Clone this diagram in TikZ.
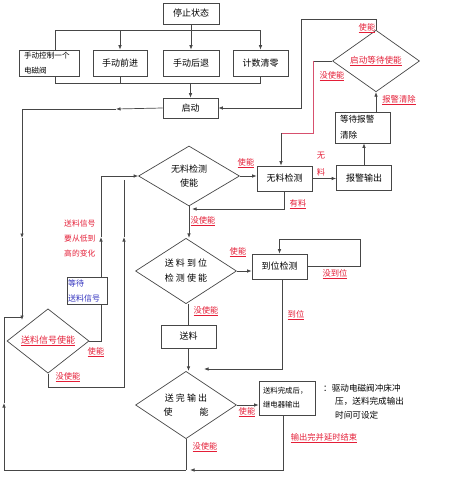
\documentclass[tikz,border=0pt]{standalone}
\usepackage{fontspec}
\setmainfont{Noto Sans CJK SC}
\usetikzlibrary{shapes.geometric,arrows.meta}
\definecolor{lblred}{RGB}{228,30,55}
\definecolor{sigblue}{RGB}{50,50,190}
\definecolor{linegray}{RGB}{70,70,70}
\definecolor{pinkline}{RGB}{215,80,110}
\begin{document}
\begin{tikzpicture}[x=1pt,y=-1pt,
  box/.style={draw=linegray,line width=0.7pt,inner sep=0pt,font=\fontsize{9}{11}\selectfont},
  dia/.style={diamond,draw=linegray,line width=0.7pt,inner sep=0pt,align=center,font=\fontsize{9}{14}\selectfont},
  lbl/.style={text=lblred,inner sep=0pt,font=\fontsize{8.3}{10}\selectfont},
  ln/.style={draw=linegray,line width=0.7pt},
  redln/.style={draw=pinkline,line width=0.7pt},
  arr/.style={-{Latex[length=4.5pt,width=3.5pt]}}]
\useasboundingbox (0,0) rectangle (474,500);

\node[box,minimum width=56,minimum height=21] (stop) at (191,13.5){停止状态};
\node[box,minimum width=60,minimum height=26,align=left,text width=50,font=\fontsize{7.6}{15}\selectfont] (man1) at (49,63){手动控制一个\\电磁阀};
\node[box,minimum width=54,minimum height=26] (fwd) at (120,63){手动前进};
\node[box,minimum width=56,minimum height=26] (bwd) at (191,63){手动后退};
\node[box,minimum width=55,minimum height=26] (clr) at (260.5,63){计数清零};
\node[box,minimum width=55,minimum height=20] (start) at (190.5,108){启动};
\node[dia,minimum width=87,minimum height=46,text=lblred,font=\fontsize{8.6}{10}\selectfont] (dwait) at (376,61){\underline{启动等待使能}};
\node[box,minimum width=55,minimum height=31,align=left,text width=45,font=\fontsize{8.6}{16}\selectfont] (alarmclr) at (362.5,127.5){等待报警\\清除};
\node[box,minimum width=55,minimum height=25] (alarm) at (364,178){报警输出};
\node[box,minimum width=55,minimum height=25] (nomat) at (284.5,178.5){无料检测};
\node[dia,minimum width=101,minimum height=60] (d1) at (189,176){无料检测\\使能};
\node[dia,minimum width=101,minimum height=59,font=\fontsize{9}{15}\selectfont] (d2) at (186,271){送 料 到 位\\检 测 使 能};
\node[box,minimum width=55,minimum height=25] (pos) at (279.5,266.5){到位检测};
\node[box,minimum width=55,minimum height=23] (feed) at (188.5,336.5){送料};
\node[dia,minimum width=101,minimum height=60] (d3) at (186,405){送 完 输 出\\使\hspace{27pt}能};
\node[box,minimum width=56,minimum height=34,align=left,text width=48,font=\fontsize{7.4}{14}\selectfont] (relay) at (287,398){送料完成后，\\继电器输出};
\node[dia,minimum width=82,minimum height=48,text=lblred] (d0) at (48,341){\underline{送料信号使能}};
\node[box,minimum width=40,minimum height=27,align=left,text width=38,text=sigblue,font=\fontsize{8}{15}\selectfont] (waitsig) at (87,290.5){等待\\送料信号};
\node[lbl,anchor=west,align=left,font=\fontsize{7.8}{15}\selectfont] (signote) at (64,239){送料信号\\要从低到\\高的变化};
\node[anchor=north west,align=left,inner sep=0pt,font=\fontsize{8.6}{13.5}\selectfont] (note) at (323,384){：驱动电磁阀冲床冲\\\hspace*{12pt}压，送料完成输出\\\hspace*{12pt}时间可设定};

\coordinate (bus1) at (191,30.5);
\coordinate (bus2) at (190.5,83);
\coordinate (m1) at (116,109);
\coordinate (lc) at (22,109);
\coordinate (m2) at (22,238);
\coordinate (e1) at (22,320);
\coordinate (lj) at (22,317);
\coordinate (bj) at (186,470);
\coordinate (m3) at (4,403);
\coordinate (tr) at (301,19);
\coordinate (w1) at (313,133);
\coordinate (w2) at (281,133);
\coordinate (hy) at (192,209);
\coordinate (pr) at (360,239);
\coordinate (py) at (204,369);
\coordinate (rb) at (190,470);
\coordinate (m4) at (101,237);
\coordinate (c5) at (124,387);
\coordinate (m5) at (124,237);
\coordinate (t5) at (124,180);

\draw[ln] (stop) -- (bus1);
\draw[ln] ([xshift=6]man1.north) |- (bus1) -- (clr.north |- bus1);
\foreach \n in {fwd,bwd,clr}
  \draw[ln,arr] (bus1 -| \n) -- (\n.north);
\draw[ln] ([xshift=6]man1.south) |- (clr.south |- bus2);
\foreach \n in {fwd,clr}
  \draw[ln] (\n.south) -- (\n.south |- bus2);
\draw[ln,arr] (bus2) -- (start.north);

\draw[ln,arr] (start.west) -- (m1);
\draw[ln,arr] (m1) -- (lc) -- (m2);
\draw[ln,arr] (m2) -- (e1);
\draw[ln,arr] (bj) -| (m3);
\draw[ln] (m3) |- (lj);

\draw[ln,arr] (dwait.north) |- (tr) |- (start.east);
\draw[ln] (dwait.west) -- (dwait.west -| w1);
\draw[redln] (dwait.west -| w1) -- (w1) -- (w2);
\draw[ln,arr] (w2) -- (w2 |- nomat.north);
\draw[ln,arr] (dwait.south |- alarmclr.north) -- (dwait.south);
\draw[ln,arr] (alarm.north) -- (alarm.north |- alarmclr.south);
\draw[ln,arr] (nomat.east) -- (nomat.east -| alarm.west);
\draw[ln,arr] (d1.east) -- (d1.east -| nomat.west);
\draw[ln,arr] (nomat.south) |- (hy);
\draw[ln,arr] (d1.south) -- (d1.south |- d2.north);

\draw[ln,arr] (d2.east) -- (d2.east -| pos.west);
\draw[ln,arr] (pos.east) -| (pr) -| (pos.north);
\draw[ln,arr] ([xshift=3]pos.south) |- (py);
\draw[ln] (feed.north) -- (feed.north |- d2.south);
\draw[ln,arr] (feed.south) -- (feed.south |- d3.north);
\draw[ln,arr] (d3.east) -- (d3.east -| relay.west);
\draw[ln,arr] ([xshift=-4]relay.south) |- (rb);
\draw[ln] (d3.south) -- (bj);

\draw[ln] (d0.east) -| ([xshift=14]waitsig.south);
\draw[ln,arr] ([xshift=14]waitsig.north) -- (m4);
\draw[ln,arr] (m4) |- (d1.west);
\draw[ln,arr] (d0.south) |- (c5) -- (m5);
\draw[ln] (m5) -- (t5);

\node[lbl] at (367,28){\underline{使能}};
\node[lbl] at (332,76){\underline{没使能}};
\node[lbl] at (399,100){\underline{报警清除}};
\node[lbl] at (321,156){无};
\node[lbl] at (321,172){料};
\node[lbl] at (246,163){\underline{使能}};
\node[lbl] at (298,204){\underline{有料}};
\node[lbl] at (203,221){\underline{没使能}};
\node[lbl] at (238,252){\underline{使能}};
\node[lbl] at (335,274){\underline{没到位}};
\node[lbl] at (296,315){\underline{到位}};
\node[lbl] at (206,311){\underline{没使能}};
\node[lbl] at (247,412){\underline{使能}};
\node[lbl] at (324,438){\underline{输出完并延时结束}};
\node[lbl] at (205,447){\underline{没使能}};
\node[lbl] at (96,352){\underline{使能}};
\node[lbl] at (68,377){\underline{没使能}};
\end{tikzpicture}
\end{document}
